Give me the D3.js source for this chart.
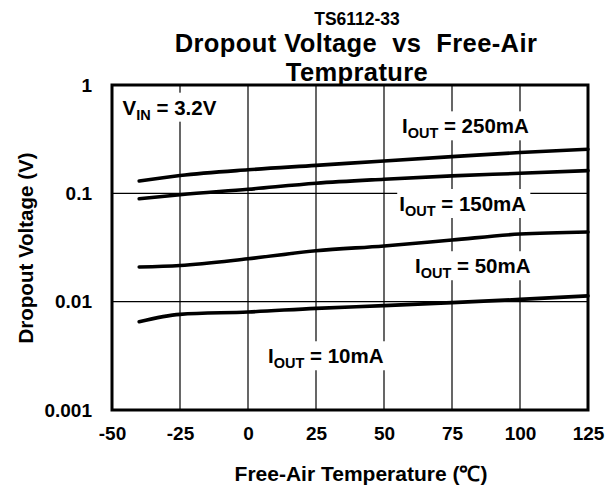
<!DOCTYPE html>
<html>
<head>
<meta charset="utf-8">
<script src="https://cdn.jsdelivr.net/npm/d3@7"></script>
<style>
  body { margin: 0; background: #fff; }
  svg text { font-family: Arial, "Liberation Sans", sans-serif; font-weight: bold; fill: #000; }
</style>
</head>
<body>
<svg id="chart" width="606" height="489"></svg>
<script>
// temperatures (°C) where the curves were read
const temps = [-40, -25, 0, 25, 50, 75, 100, 125];
// dropout voltage (V) per load current
const v250 = [0.130, 0.146, 0.165, 0.181, 0.199, 0.218, 0.238, 0.255];
const v150 = [0.089, 0.097, 0.109, 0.124, 0.135, 0.145, 0.153, 0.162];
const v50  = [0.0209, 0.0216, 0.0249, 0.0295, 0.0327, 0.0371, 0.0421, 0.0440];
const v10  = [0.00653, 0.00764, 0.00803, 0.00868, 0.0092, 0.0098, 0.0105, 0.0113];

const xTicks = [-50, -25, 0, 25, 50, 75, 100, 125];
const yTicks = [1, 0.1, 0.01, 0.001];
const yTickLabels = ["1", "0.1", "0.01", "0.001"];

// annotation texts: [main, subscript, rest] and anchor (temp, volts)
const noteText = [["V", "IN", " = 3.2V"], ["I", "OUT", " = 250mA"], ["I", "OUT", " = 150mA"], ["I", "OUT", " = 50mA"], ["I", "OUT", " = 10mA"]];
const noteTemp = [-46.1, 56.6, 55.6, 61.4, 7.35];
const noteVolt = [0.532, 0.358, 0.0687, 0.0183, 0.0027];

const svg = d3.select("#chart");
const plotL = 112, plotR = 588, plotT = 85, plotB = 410;

const x = d3.scaleLinear().domain([-50, 125]).range([plotL, plotR]);
const y = d3.scaleLog().domain([0.001, 1]).range([plotB, plotT]);

// titles
svg.append("text").attr("x", 357).attr("y", 24.5).attr("text-anchor", "middle")
    .attr("font-size", 17.5).text("TS6112-33");
svg.append("text").attr("x", 356).attr("y", 51.5).attr("text-anchor", "middle")
    .attr("font-size", 25.5).attr("letter-spacing", 0.4).attr("xml:space", "preserve")
    .text("Dropout Voltage  vs  Free-Air");
svg.append("text").attr("x", 357).attr("y", 81).attr("text-anchor", "middle")
    .attr("font-size", 25.5).attr("letter-spacing", 0.4).text("Temprature");

// grid
const grid = svg.append("g");
grid.selectAll(".vg").data(xTicks.slice(1, -1)).join("line")
    .attr("x1", d => x(d)).attr("x2", d => x(d))
    .attr("y1", plotT).attr("y2", plotB)
    .attr("stroke", "#000").attr("stroke-width", 1.2);
grid.selectAll(".hg").data(yTicks.slice(1, -1)).join("line")
    .attr("x1", plotL).attr("x2", plotR)
    .attr("y1", d => y(d)).attr("y2", d => y(d))
    .attr("stroke", "#000").attr("stroke-width", 1.2);

// axes (labels only)
const xAxis = svg.append("g").attr("transform", "translate(0," + plotB + ")")
    .call(d3.axisBottom(x).tickValues(xTicks).tickSize(0).tickPadding(17).tickFormat(d => String(d)));
xAxis.select(".domain").remove();
xAxis.selectAll("text").attr("font-size", 19);
xAxis.attr("font-family", null).attr("font-size", null);

const yAxis = svg.append("g").attr("transform", "translate(" + plotL + ",0)")
    .call(d3.axisLeft(y).tickValues(yTicks).tickSize(0).tickPadding(20).tickFormat((d, i) => yTickLabels[i]));
yAxis.select(".domain").remove();
yAxis.selectAll("text").attr("font-size", 19);
yAxis.attr("font-family", null).attr("font-size", null);

// axis titles
svg.append("text").attr("x", 361).attr("y", 481).attr("text-anchor", "middle")
    .attr("font-size", 21).text("Free-Air Temperature (℃)");
svg.append("text").attr("transform", "translate(33,248) rotate(-90)")
    .attr("text-anchor", "middle").attr("font-size", 20.5).text("Dropout Voltage (V)");

// curves
const series = [v250, v150, v50, v10];
const line = d3.line().x((d, i) => x(temps[i])).y(d => y(d)).curve(d3.curveMonotoneX);
svg.append("g").selectAll("path").data(series).join("path")
    .attr("d", line)
    .attr("fill", "none").attr("stroke", "#000")
    .attr("stroke-width", 3.6).attr("stroke-linecap", "round");

// annotations with white boxes
const notes = svg.append("g");
noteText.forEach((t, i) => {
  const g = notes.append("g");
  const txt = g.append("text").attr("x", x(noteTemp[i])).attr("y", y(noteVolt[i]))
      .attr("font-size", 20.5).attr("xml:space", "preserve");
  txt.append("tspan").text(t[0]);
  txt.append("tspan").attr("font-size", 14.5).attr("dy", 5).text(t[1]);
  txt.append("tspan").attr("dy", -5).text(t[2]);
  const b = txt.node().getBBox();
  g.insert("rect", "text").attr("x", b.x - 2).attr("y", b.y - 3)
      .attr("width", b.width + 6).attr("height", b.height + 2).attr("fill", "#fff");
});

// frame
svg.append("rect").attr("x", plotL).attr("y", plotT)
    .attr("width", plotR - plotL).attr("height", plotB - plotT)
    .attr("fill", "none").attr("stroke", "#000").attr("stroke-width", 3);
</script>
</body>
</html>
